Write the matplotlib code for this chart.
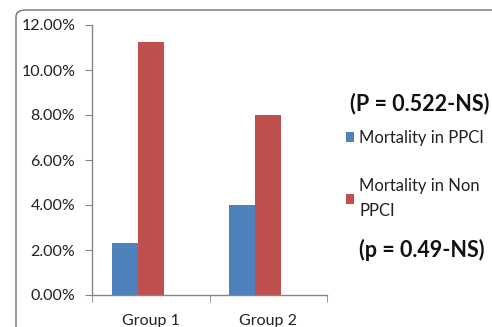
import matplotlib
matplotlib.use("Agg")
import matplotlib.pyplot as plt
from matplotlib.patches import FancyBboxPatch
import numpy as np

categories = ["Group 1", "Group 2"]
ppci = [2.3, 4.0]
non_ppci = [11.25, 8.0]
yticks = [0, 2, 4, 6, 8, 10, 12]
series_labels = ["Mortality in PPCI", "Mortality in Non\nPPCI"]
p_top = "(P = 0.522-NS)"
p_bottom = "(p = 0.49-NS)"

plt.rcParams['font.family'] = ['Lato', 'DejaVu Sans']
W, H = 492, 327
fig = plt.figure(figsize=(W / 100, H / 100), dpi=100)
fig.patch.set_facecolor("white")

# rounded frame
frame = FancyBboxPatch((16 / W, -0.2), 1.2, (H - 10) / H + 0.2,
                       boxstyle="round,pad=0,rounding_size=0.02",
                       transform=fig.transFigure, fill=False,
                       edgecolor="#707070", linewidth=1.0, clip_on=False)
fig.patches.append(frame)

left, right = 92 / W, 327 / W
bottom, top = 1 - 295 / H, 1 - 25 / H
ax = fig.add_axes([left, bottom, right - left, top - bottom])

x = np.arange(len(categories))
bw = 26 / 117.5
# Excel layout with an empty third slot: blue left of centre, red on centre
b1 = ax.bar(x - bw, ppci, bw, color="#4F81BD", label=series_labels[0])
b2 = ax.bar(x, non_ppci, bw, color="#C0504D", label=series_labels[1])

ax.set_xlim(-0.5, len(categories) - 0.5)
ax.set_ylim(0, 12)
ax.set_yticks(yticks)
ax.set_yticklabels([f"{v:.2f}%" for v in yticks], fontsize=11.5, color="#222222")
ax.set_xticks(x)
ax.set_xticklabels(categories, fontsize=11.5, color="#222222")
ax.tick_params(axis="x", length=0, pad=14)
ax.set_xticks(np.arange(-0.5, len(categories)), minor=True)
ax.tick_params(axis="x", which="minor", length=5, color="#868686", direction="out")
ax.tick_params(axis="y", length=5, color="#868686", direction="out", pad=7)
for s in ["top", "right"]:
    ax.spines[s].set_visible(False)
for s in ["left", "bottom"]:
    ax.spines[s].set_color("#868686")
    ax.spines[s].set_linewidth(1.0)

leg = fig.legend(handles=[b1, b2], labels=series_labels,
                 loc="upper left", bbox_to_anchor=(346 / W, 1 - 130 / H),
                 frameon=False, fontsize=12, handlelength=0.5, handleheight=0.5,
                 handletextpad=0.3, labelspacing=1.9, borderaxespad=0,
                 borderpad=0)
for t in leg.get_texts():
    t.set_color("#222222")
    t.set_linespacing(1.75)

fig.text(350 / W, 1 - 104 / H, p_top, fontsize=15.5, fontweight="bold",
         va="center", ha="left", color="#111111")
fig.text(359 / W, 1 - 250 / H, p_bottom, fontsize=15.5, fontweight="bold",
         va="center", ha="left", color="#111111")

fig.savefig("out.png", dpi=100)
